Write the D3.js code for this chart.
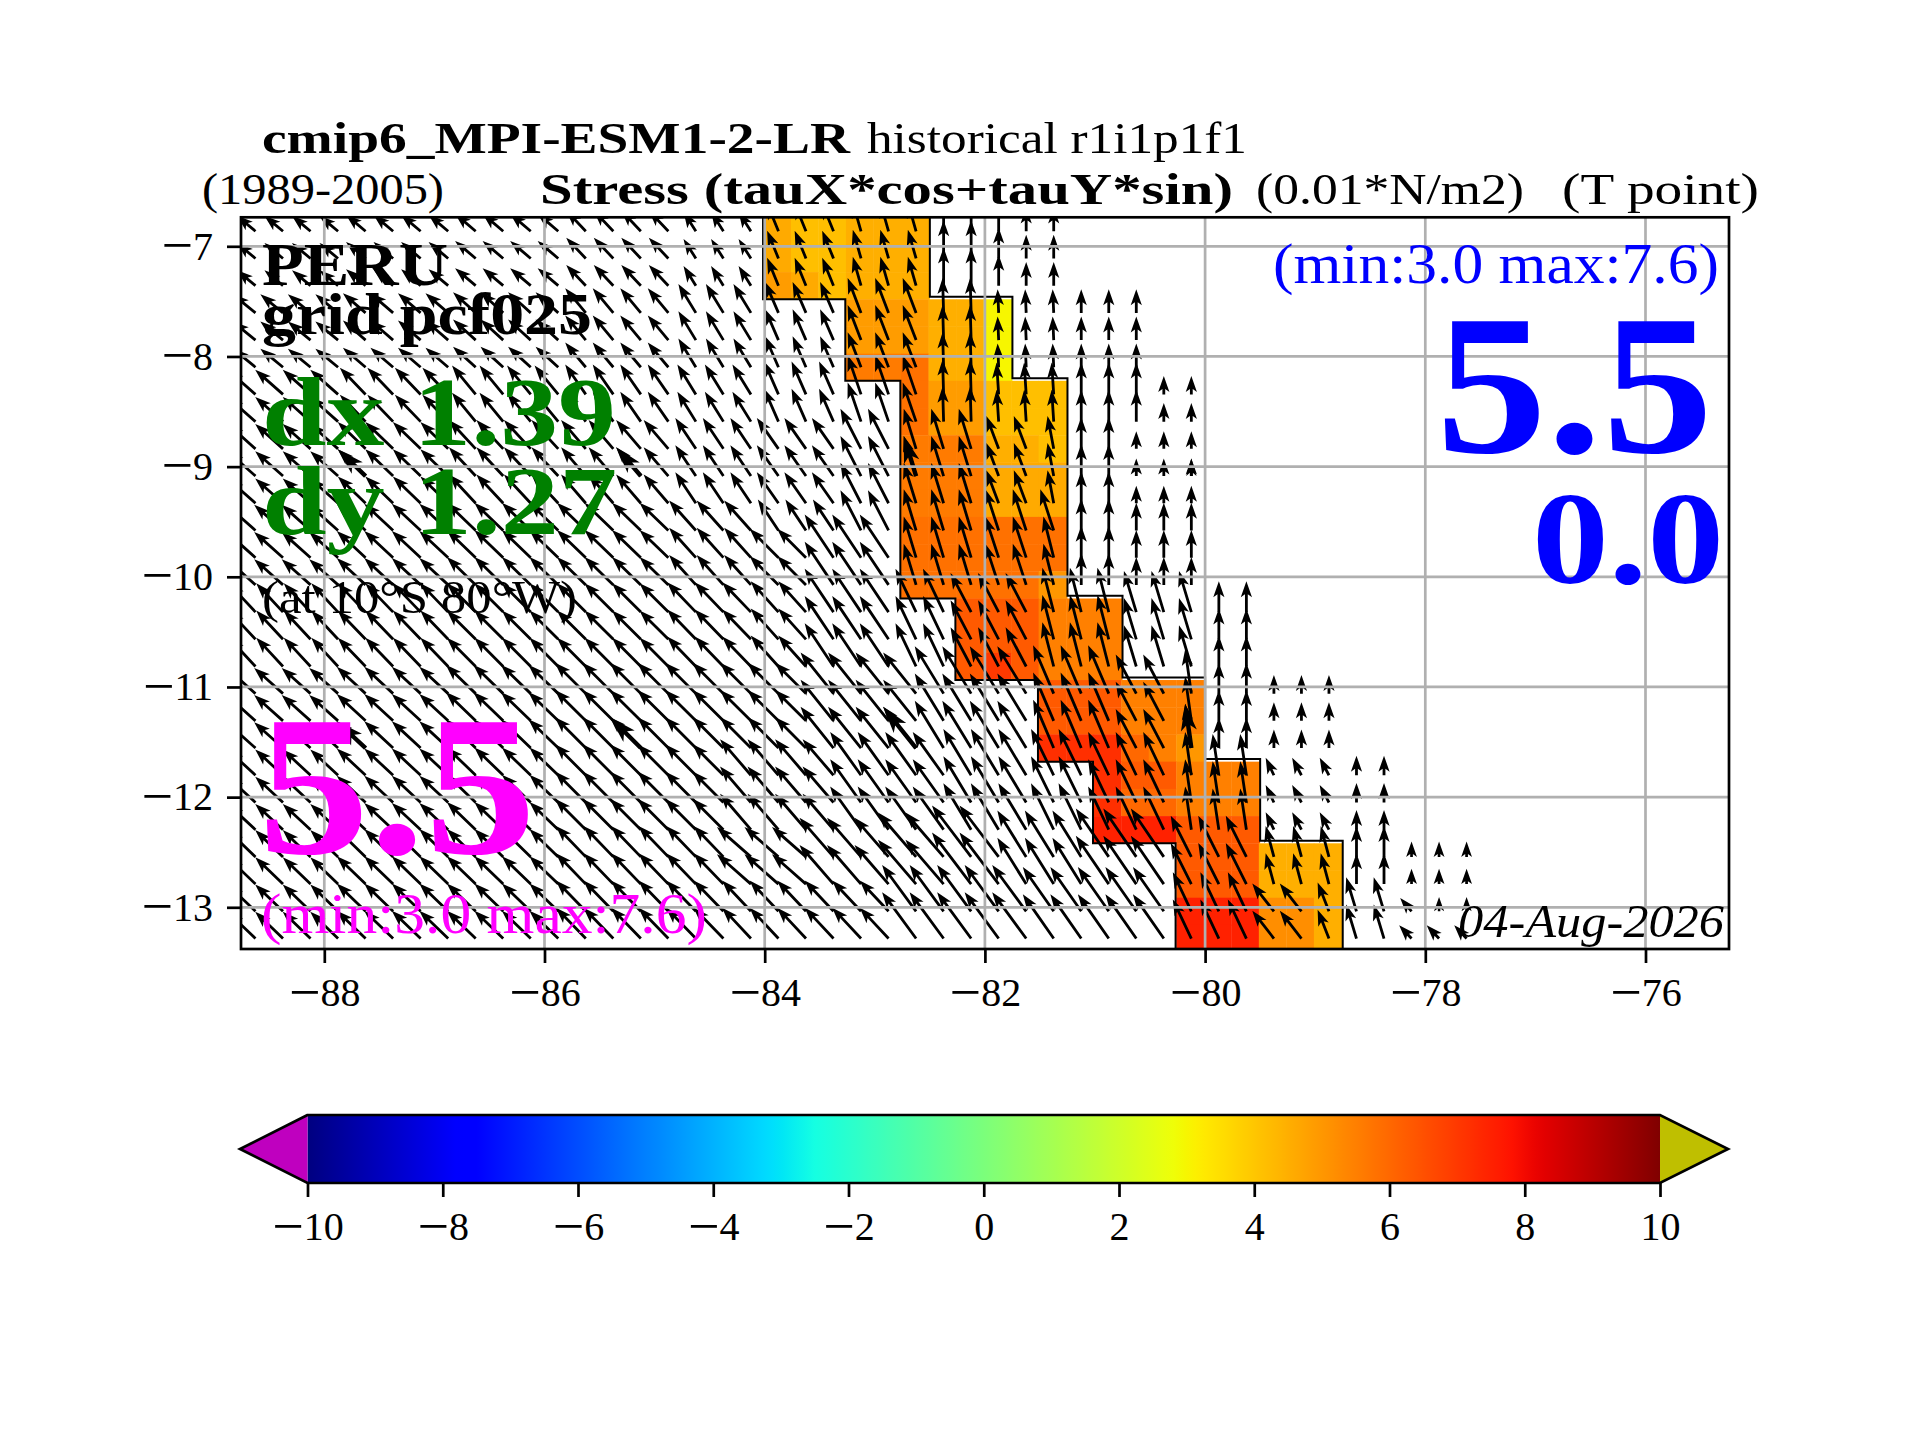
<!DOCTYPE html>
<html>
<head>
<meta charset="utf-8">
<script src="https://cdn.jsdelivr.net/npm/d3@7"></script>
<style>
  html, body { margin: 0; background: #fff; }
  svg { display: block; }
  text { font-family: "Liberation Serif", serif; }
</style>
</head>
<body>
<svg id="chart" width="1920" height="1440"></svg>
<script>
// lat of the cell edges, top to bottom (grid rows are not quite 0.25 deg)
const latEdges = [-6.74, -6.987, -7.234, -7.481, -7.728, -7.975, -8.221, -8.468, -8.715, -8.962,
  -9.209, -9.456, -9.703, -9.95, -10.197, -10.444, -10.691, -10.937, -11.184, -11.431,
  -11.678, -11.925, -12.172, -12.419, -12.666, -12.913, -13.16, -13.407];
const firstLon = -84; // nominal west edge of column 0
const lonStep = 0.25;
const cellLonShift = -0.012; // pcolor edges sit a touch west of the nominal grid

// stress along the coast, one row per grid row, starting at column stressColStart[row]
const stressColStart = [0, 0, 0, 3, 3, 3, 5, 5, 5, 5, 5, 5, 5, 5, 7, 7, 7, 10, 10, 10, 12, 12, 12, 15, 15, 15, 15];
const stressRows = [
  [4.6, 4.15, 4.15, 4.5, 4.5, 4.5],
  [4.6, 4.15, 4.15, 4.5, 4.5, 4.5],
  [4.9, 4.6, 4.15, 4.5, 4.5, 4.5],
  [4.9, 4.9, 4.9, 4.5, 4.5, 3.0],
  [4.9, 4.9, 4.9, 4.5, 4.5, 3.0],
  [5.6, 5.6, 5.8, 4.5, 4.5, 3.0],
  [5.8, 4.9, 4.9, 4.15, 4.15, 4.15],
  [5.8, 4.9, 4.9, 4.15, 4.15, 4.15],
  [5.6, 5.6, 5.6, 4.5, 4.5, 4.15],
  [5.6, 5.6, 5.6, 4.6, 4.6, 4.6],
  [5.6, 5.6, 5.6, 4.6, 4.6, 4.6],
  [5.8, 5.8, 5.8, 5.8, 5.8, 5.8],
  [5.8, 5.8, 5.8, 5.8, 5.8, 5.8],
  [5.8, 5.8, 5.8, 5.8, 5.8, 5.0],
  [6.3, 6.3, 6.3, 5.5, 5.5, 5.5],
  [6.3, 6.3, 6.3, 5.5, 5.5, 5.5],
  [6.3, 7.0, 6.3, 5.5, 5.5, 5.5],
  [6.3, 6.3, 6.3, 5.5, 5.5, 5.5],
  [6.3, 6.3, 6.3, 5.5, 5.5, 5.5],
  [7.2, 7.2, 7.2, 6.0, 5.5, 5.0],
  [7.2, 6.3, 6.3, 5.5, 5.5, 5.5],
  [7.2, 6.0, 6.0, 5.5, 5.5, 5.5],
  [7.5, 7.5, 7.5, 6.3, 6.3, 6.3],
  [6.3, 6.3, 6.3, 4.5, 4.5, 4.5],
  [6.3, 6.3, 6.3, 4.5, 4.5, 4.5],
  [7.5, 7.5, 7.5, 5.2, 5.2, 4.5],
  [7.5, 7.5, 7.5, 5.2, 5.2, 4.5]
];

// black staircase round the coastal band
const outlineLon = [-84.015, -84.015, -83.268, -83.268, -82.768, -82.768, -82.268, -82.268, -81.518, -81.518, -81.018, -81.018,
  -80.268, -80.268, -78.75, -78.75, -79.5, -79.5, -80, -80, -80.75, -80.75, -81.25, -81.25, -81.75, -81.75, -82.5, -82.5];
const outlineLat = [-6.74, -7.481, -7.481, -8.221, -8.221, -10.197, -10.197, -10.937, -10.937, -11.678, -11.678, -12.419,
  -12.419, -13.407, -13.407, -12.395, -12.395, -11.654, -11.654, -10.913, -10.913, -10.173, -10.173, -8.197, -8.197, -7.457, -7.457, -6.74];

// wind stress blocks: the model cells repeat over several 0.25 deg rows and columns
const vectorRowStart = [0, 3, 6, 8, 11, 12, 14, 17, 20, 23, 25, 26];
const vectorColStart = [
  [-19, -15, -11, -7, -3, 0, 3, 6, 8, 9],
  [-19, -15, -11, -7, -3, 0, 3, 6, 8, 11],
  [-19, -15, -11, -7, -3, 0, 3, 6, 8, 11, 14],
  [-19, -15, -11, -7, -3, 0, 3, 5, 8, 10, 11, 13],
  [-19, -15, -11, -7, -3, 0, 3, 5, 8, 11, 13],
  [-19, -15, -11, -7, -3, 0, 2, 5, 8, 10, 11, 13],
  [-19, -15, -11, -7, -3, 0, 2, 5, 7, 10, 13, 16],
  [-19, -15, -11, -7, -3, 2, 6, 10, 13, 15, 16, 18],
  [-19, -15, -11, -7, -1, 3, 7, 10, 12, 15, 16, 18, 19, 21],
  [-19, -15, -7, -1, 2, 5, 7, 9, 12, 15, 18, 21, 23],
  [-19, -15, -7, -1, 5, 10, 15, 18, 20, 21, 23, 24],
  [-19, -15, -7, -1, 5, 10, 15, 18, 20, 21, 23]
];
const tauX = [
  [-1.8, -1.9, -2.0, -1.9, -1.2, -1.1, -0.8, 0, 0, 0],
  [-2.2, -2.2, -2.2, -2.0, -1.7, -1.3, -1.3, -0.1, -0.1, 0],
  [-2.7, -2.5, -2.3, -2.0, -1.8, -1.4, -1.3, -0.1, -0.2, 0, 0],
  [-2.7, -2.7, -2.6, -2.4, -2.0, -2.1, -2.0, -1.2, -1.2, -0.6, 0, 0],
  [-2.8, -2.8, -2.8, -2.8, -2.6, -2.0, -2.0, -1.2, -1.3, 0, 0],
  [-2.8, -2.8, -2.8, -2.8, -2.6, -2.8, -2.8, -1.2, -1.3, -1.0, 0, 0],
  [-2.6, -2.7, -2.8, -2.8, -2.8, -2.7, -2.8, -2.0, -2.0, -1.1, -1.2, 0],
  [-2.8, -2.8, -2.9, -3.0, -3.0, -3.2, -2.8, -2.0, -2.0, -0.6, 0, 0],
  [-2.7, -2.8, -2.8, -3.0, -3.0, -3.0, -2.7, -2.2, -2.0, -0.6, -0.6, -0.8, -0.9, 0],
  [-2.7, -2.8, -2.9, -3.3, -3.3, -3.7, -3.8, -2.8, -3.2, -2.0, -0.8, 0, 0],
  [-2.7, -2.8, -2.9, -2.8, -3.3, -3.0, -1.8, -2.1, -1.1, -1.0, -1.1, 0],
  [-2.7, -2.8, -2.9, -2.8, -3.3, -3.0, -1.8, -2.1, -1.1, -1.0, -1.2]
];
const tauY = [
  [1.5, 1.6, 1.7, 2.0, 1.9, 2.7, 2.8, 3.7, 3.0, 2.3],
  [1.8, 1.9, 2.0, 2.4, 2.8, 3.0, 3.4, 3.4, 2.3, 2.3],
  [2.4, 2.6, 2.8, 2.9, 2.9, 3.2, 3.8, 3.4, 3.1, 3.1, 1.8],
  [2.4, 2.6, 2.8, 2.8, 3.0, 3.0, 3.9, 3.9, 3.2, 3.2, 3.1, 1.7],
  [2.5, 2.6, 2.7, 2.7, 2.9, 3.0, 3.9, 4.0, 4.0, 3.1, 2.7],
  [2.5, 2.6, 2.7, 2.7, 2.9, 2.8, 4.2, 4.0, 4.0, 4.0, 3.1, 2.7],
  [2.8, 2.8, 2.8, 2.8, 2.9, 3.0, 4.2, 4.2, 3.8, 4.3, 4.0, 3.0],
  [2.5, 2.6, 2.8, 3.0, 3.0, 4.0, 4.6, 4.7, 3.8, 4.3, 3.0, 1.8],
  [2.5, 2.6, 2.7, 3.0, 3.5, 4.2, 4.5, 4.5, 4.2, 4.2, 4.0, 1.7, 1.7, 1.9],
  [2.6, 2.7, 3.0, 2.9, 3.8, 4.3, 5.0, 4.5, 4.7, 4.0, 3.0, 3.0, 1.5],
  [2.6, 2.7, 3.0, 3.0, 4.5, 4.3, 3.8, 2.7, 2.8, 3.3, 1.3, 1.4],
  [2.6, 2.7, 3.0, 3.0, 4.5, 4.3, 3.8, 2.7, 2.8, 3.3, 1.3]
];
// no ocean east of this column, per group of rows
const coastRowStart = [0, 3, 6, 14, 17, 20, 23];
const coastLastCol = [10, 13, 15, 17, 20, 22, 25];
// every tenth grid point is redrawn with a heavy arrow
const heavyCols = [-15, -5, 5, 15];
const heavyRows = [9, 19];

const xTicks = [-88, -86, -84, -82, -80, -78, -76];
const yTicks = [-7, -8, -9, -10, -11, -12, -13];
const colorbarTicks = [-10, -8, -6, -4, -2, 0, 2, 4, 6, 8, 10];

// matplotlib jet anchors
const jetRedAt = [0, 0.35, 0.66, 0.89, 1], jetRed = [0, 0, 1, 1, 0.5];
const jetGreenAt = [0, 0.125, 0.375, 0.64, 0.91, 1], jetGreen = [0, 0, 1, 1, 0, 0];
const jetBlueAt = [0, 0.11, 0.34, 0.65, 1], jetBlue = [0.5, 1, 1, 0, 0];

const margin = { top: 217.3, right: 191, bottom: 491, left: 241 };
const svg = d3.select('#chart');
const width = 1920 - margin.left - margin.right;
const height = 1440 - margin.top - margin.bottom;

const x = d3.scaleLinear().domain([-78, -76]).range([1425.3 - margin.left, 1645.5 - margin.left]);
const y = d3.scaleLinear().domain([-7, -13]).range([246.3 - margin.top, 907.3 - margin.top]);
const arrowPx = d3.scaleLinear().domain([0, 1]).range([0, 10.3]);

const jetR = d3.scaleLinear().domain(jetRedAt).range(jetRed);
const jetG = d3.scaleLinear().domain(jetGreenAt).range(jetGreen);
const jetB = d3.scaleLinear().domain(jetBlueAt).range(jetBlue);
const stressToT = d3.scaleLinear().domain([-10, 10]).range([0, 1]);
const jet = (v) => {
  const t = stressToT(v);
  return d3.rgb(jetR(t) * 255, jetG(t) * 255, jetB(t) * 255).formatHex();
};

const lonEdge = (j) => firstLon + lonStep * j;
const lonCentre = (j) => lonEdge(j) + lonStep / 2;
const latCentre = (k) => (latEdges[k] + latEdges[k + 1]) / 2;

const plot = svg.append('g').attr('transform', `translate(${margin.left},${margin.top})`);
plot.append('clipPath').attr('id', 'plot-clip').append('rect').attr('width', width).attr('height', height);
const field = plot.append('g').attr('clip-path', 'url(#plot-clip)');

// coloured cells
stressRows.forEach((row, k) => {
  row.forEach((value, i) => {
    const j = stressColStart[k] + i;
    const x0 = x(lonEdge(j) + cellLonShift);
    field.append('rect')
      .attr('x', x0)
      .attr('y', y(latEdges[k]))
      .attr('width', x(lonEdge(j + 1) + cellLonShift) - x0 + (i === row.length - 1 ? 1.3 : 0.4))
      .attr('height', y(latEdges[k + 1]) - y(latEdges[k]) + 0.4)
      .attr('fill', jet(value));
  });
});

field.append('path')
  .attr('d', d3.line().x((d) => x(d[0])).y((d) => y(d[1]))(d3.zip(outlineLon, outlineLat)))
  .attr('fill', 'none')
  .attr('stroke', '#000')
  .attr('stroke-width', 2);

// quiver with matplotlib style heads, short arrows shrink the whole head
const thin = { shaft: 1.4, head: 5.6, headLength: 16, headBack: 13 };
const heavy = { shaft: 2.2, head: 8, headLength: 27, headBack: 22 };

function vectorAt(j, k) {
  const r = d3.bisectRight(vectorRowStart, k) - 1;
  const c = d3.bisectRight(vectorColStart[r], j) - 1;
  return [tauX[r][c], tauY[r][c]];
}

function arrowPath(j, k, shape) {
  const [u, v] = vectorAt(j, k);
  const dx = arrowPx(u);
  const dy = -arrowPx(v);
  const len = Math.hypot(dx, dy);
  const s = Math.min(1, len / shape.headLength);
  const local = [
    [0, -shape.shaft * s],
    [len - shape.headBack * s, -shape.shaft * s],
    [len - shape.headLength * s, -shape.head * s],
    [len, 0],
    [len - shape.headLength * s, shape.head * s],
    [len - shape.headBack * s, shape.shaft * s],
    [0, shape.shaft * s]
  ];
  const cos = dx / len;
  const sin = dy / len;
  const x0 = x(lonCentre(j));
  const y0 = y(latCentre(k));
  return 'M' + local.map((p) => [x0 + p[0] * cos - p[1] * sin, y0 + p[0] * sin + p[1] * cos].join(',')).join('L') + 'Z';
}

const arrows = field.append('g').attr('fill', '#000');
d3.range(0, stressRows.length).forEach((k) => {
  const last = coastLastCol[d3.bisectRight(coastRowStart, k) - 1];
  d3.range(-19, last + 1).forEach((j) => {
    arrows.append('path').attr('d', arrowPath(j, k, thin));
  });
});
heavyRows.forEach((k) => {
  heavyCols.forEach((j) => {
    arrows.append('path').attr('d', arrowPath(j, k, heavy));
  });
});

// grid sits over the arrows
const grid = field.append('g').attr('stroke', '#b0b0b0').attr('stroke-width', 2.7);
xTicks.forEach((t) => {
  grid.append('line').attr('x1', x(t)).attr('x2', x(t)).attr('y1', 0).attr('y2', height);
});
yTicks.forEach((t) => {
  grid.append('line').attr('x1', 0).attr('x2', width).attr('y1', y(t)).attr('y2', y(t));
});

// tick labels: the math minus of the original is much wider than a text one,
// so it gets a bigger size of its own, pushed down to stay on the digit centre
const tickSize = 40;
const minusSize = 56;
const minusDrop = 4.3;
function styleAxis(g) {
  g.selectAll('.domain').remove();
  g.selectAll('line').attr('stroke', '#000').attr('stroke-width', 2.7);
  g.selectAll('text')
    .attr('font-family', '"Liberation Serif", serif')
    .attr('font-size', tickSize)
    .attr('fill', '#000')
    .each(function (d) {
      // a tspan dy replaces the one d3 put on the text, so carry it over in px
      const baseDy = parseFloat(d3.select(this).attr('dy')) * tickSize;
      const label = d3.select(this).attr('dy', null).text(null);
      if (d < 0) {
        label.append('tspan').attr('font-size', minusSize).attr('dy', baseDy + minusDrop).text('\u2212');
        label.append('tspan').attr('dy', -minusDrop).text(Math.abs(d));
      } else {
        label.append('tspan').attr('dy', baseDy).text(d);
      }
    });
}

plot.append('g')
  .attr('transform', `translate(0,${height})`)
  .call(d3.axisBottom(x).tickValues(xTicks).tickSize(14).tickPadding(15))
  .call(styleAxis);
plot.append('g')
  .call(d3.axisLeft(y).tickValues(yTicks).tickSize(14).tickPadding(14))
  .call(styleAxis);
plot.append('rect')
  .attr('width', width).attr('height', height)
  .attr('fill', 'none').attr('stroke', '#000').attr('stroke-width', 2.7);

// labels, [text, x start, x end, baseline, size, weight, colour, style]
const labels = [
  ['cmip6_MPI-ESM1-2-LR', 262, 850, 153, 45, 'bold', '#000', 'normal'],
  ['historical r1i1p1f1', 867, 1247, 153, 45, 'normal', '#000', 'normal'],
  ['(1989-2005)', 202, 444, 204, 45, 'normal', '#000', 'normal'],
  ['Stress (tauX*cos+tauY*sin)', 540, 1233, 204, 45, 'bold', '#000', 'normal'],
  ['(0.01*N/m2)', 1256, 1524, 204, 45, 'normal', '#000', 'normal'],
  ['(T point)', 1562, 1759, 204, 45, 'normal', '#000', 'normal'],
  ['PERU', 262, 448, 285, 62, 'bold', '#000', 'normal'],
  ['grid pcf025', 262, 592, 334, 60, 'bold', '#000', 'normal'],
  ['dx 1.39', 262, 616, 445, 98, 'bold', '#008000', 'normal'],
  ['dy 1.27', 262, 617, 534, 98, 'bold', '#008000', 'normal'],
  ['(at 10\u00b0S 80\u00b0W)', 262, 577, 613, 47, 'normal', '#000', 'normal'],
  ['5.5', 258, 536, 853, 200, 'bold', '#ff00ff', 'normal'],
  ['(min:3.0 max:7.6)', 261, 707, 933, 58, 'normal', '#ff00ff', 'normal'],
  ['(min:3.0 max:7.6)', 1273, 1719, 283, 58, 'normal', '#0000ff', 'normal'],
  ['5.5', 1436, 1713, 452, 200, 'bold', '#0000ff', 'normal'],
  ['0.0', 1532, 1724, 583, 132, 'bold', '#0000ff', 'normal'],
  ['04-Aug-2026', 1458, 1724, 937, 46, 'normal', '#000', 'italic']
];
svg.selectAll('text.label').data(labels).join('text')
  .attr('class', 'label')
  .attr('x', (d) => d[1])
  .attr('y', (d) => d[3])
  .attr('textLength', (d) => d[2] - d[1])
  .attr('lengthAdjust', 'spacingAndGlyphs')
  .attr('font-size', (d) => d[4])
  .attr('font-weight', (d) => d[5])
  .attr('fill', (d) => d[6])
  .attr('font-style', (d) => d[7])
  .text((d) => d[0]);

// colorbar with the two extend triangles
const barTop = 1115, barBottom = 1183;
const barX = d3.scaleLinear().domain([-10, 10]).range([307.5, 1660]);
const gradient = svg.append('defs').append('linearGradient')
  .attr('id', 'jet-bar').attr('x1', 0).attr('x2', 1).attr('y1', 0).attr('y2', 0);
d3.range(0, 129).forEach((i) => {
  gradient.append('stop').attr('offset', i / 128).attr('stop-color', jet(-10 + (20 * i) / 128));
});
const bar = svg.append('g');
bar.append('rect')
  .attr('x', barX(-10)).attr('y', barTop)
  .attr('width', barX(10) - barX(-10)).attr('height', barBottom - barTop)
  .attr('fill', 'url(#jet-bar)');
const barMid = (barTop + barBottom) / 2;
bar.append('path')
  .attr('d', `M${barX(-10)},${barTop}L240,${barMid}L${barX(-10)},${barBottom}Z`)
  .attr('fill', '#bf00bf');
bar.append('path')
  .attr('d', `M${barX(10)},${barTop}L1728,${barMid}L${barX(10)},${barBottom}Z`)
  .attr('fill', '#bfbf00');
bar.append('path')
  .attr('d', `M${barX(-10)},${barTop}L240,${barMid}L${barX(-10)},${barBottom}L${barX(10)},${barBottom}L1728,${barMid}L${barX(10)},${barTop}Z`)
  .attr('fill', 'none').attr('stroke', '#000').attr('stroke-width', 2.7);
svg.append('g')
  .attr('transform', `translate(0,${barBottom})`)
  .call(d3.axisBottom(barX).tickValues(colorbarTicks).tickSize(14).tickPadding(15))
  .call(styleAxis);
</script>
</body>
</html>
